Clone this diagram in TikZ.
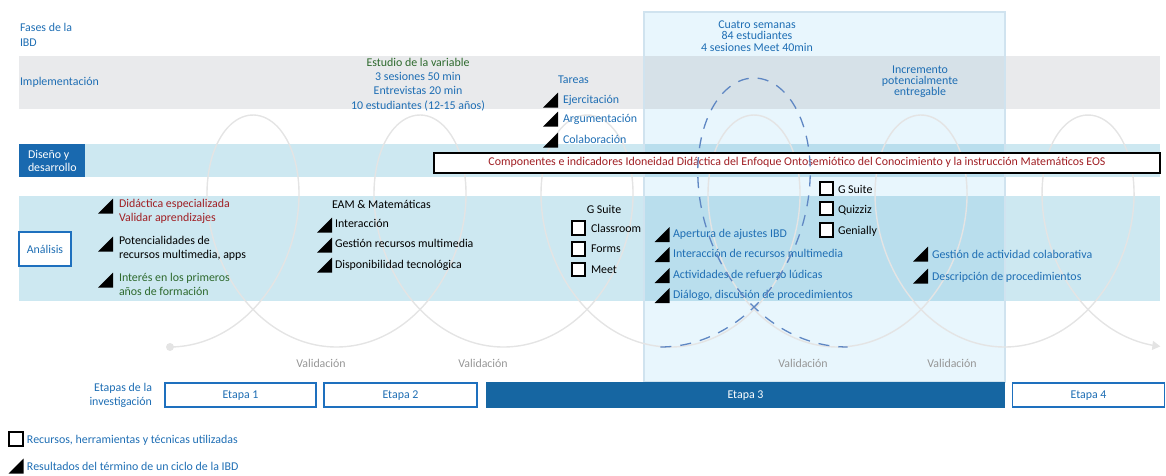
\documentclass[tikz,border=0pt]{standalone}
\usepackage{fontspec}
\setmainfont{Carlito}
\usetikzlibrary{arrows.meta}

\definecolor{txtblue}{RGB}{30,110,180}
\definecolor{txtred}{RGB}{160,30,35}
\definecolor{txtgreen}{RGB}{45,105,45}
\definecolor{valgrey}{RGB}{150,150,150}
\definecolor{bandgrey}{RGB}{233,234,236}
\definecolor{bandgreyhi}{RGB}{214,225,232}
\definecolor{bandblue}{RGB}{205,232,241}
\definecolor{bandbluehi}{RGB}{185,222,237}
\definecolor{hifill}{RGB}{232,246,253}
\definecolor{hiedge}{RGB}{208,227,239}
\definecolor{boxblue}{RGB}{25,105,175}
\definecolor{stageblue}{RGB}{22,102,162}
\definecolor{edgeblue}{RGB}{30,112,190}
\definecolor{loopgrey}{RGB}{228,228,228}
\definecolor{dashblue}{RGB}{95,135,195}

\tikzset{
  restri/.pic={\fill[black] (-7.5,7.5) -- (7.5,7.5) -- (7.5,-7.5) -- cycle;},
  lbl/.style={anchor=base west},
  ctr/.style={anchor=base},
  rgt/.style={anchor=base east},
  chk/.style={draw=black, line width=1.7pt, fill=white, minimum size=13.5pt, inner sep=0pt},
  stagebox/.style={draw=edgeblue, line width=1.4pt, fill=white, minimum height=24pt, text=txtblue,
                   text height=8pt, text depth=2pt},
  loopline/.style={draw=loopgrey, line width=1.4pt},
  dashloop/.style={draw=dashblue, line width=1.3pt, dash pattern=on 11pt off 9pt},
}

\begin{document}
\begin{tikzpicture}[x=1pt, y=-1pt,
  every node/.style={font=\fontsize{11.9}{14}\selectfont, inner sep=0pt, outer sep=0pt}]
\useasboundingbox (0,0) rectangle (1166,475);

% stage-3 highlight panel
\fill[hifill] (644,12) rectangle (1005,382);

% horizontal bands
\fill[bandgrey] (19,56) rectangle (1160,109);
\fill[bandgreyhi] (644,56) rectangle (1005,109);
\fill[bandblue] (19,144) rectangle (1160,177);
\fill[bandbluehi] (644,144) rectangle (1005,177);
\fill[bandblue] (19,196) rectangle (1160,301);
\fill[bandbluehi] (644,196) rectangle (1005,301);
\draw[hiedge, line width=1.2pt] (644,12) rectangle (1005,382);

% iterative cycles (looped path)
\fill[loopgrey] (170,347) circle (4);
\draw[loopline, -{Triangle[length=8pt, width=9pt]}]
  plot[domain=-3.1416:34.458, samples=700, smooth]
  ({253+26.58*\x-83.5*sin(\x r)}, {231-116*cos(\x r)});

% phase labels
\node[lbl, text=txtblue] (fases1) at (20,31) {Fases de la};
\node[lbl, text=txtblue] (fases2) at (20,46) {IBD};
\node[lbl, text=txtblue] (impl) at (20,85) {Implementación};

\node[fill=boxblue, minimum width=66pt, minimum height=33pt] (diseno) at (52,160.5) {};
\node[lbl, text=white] (diseno1) at (28,158) {Diseño y};
\node[lbl, text=white] (diseno2) at (28,171) {desarrollo};

\node[draw=edgeblue, line width=1.4pt, fill=white, minimum width=52pt, minimum height=34pt,
      text=txtblue] (analisis) at (45,249) {Análisis};

% implementation row
\node[ctr, text=txtgreen] (est1) at (418,66) {Estudio de la variable};
\node[ctr, text=txtblue] (est2) at (418,80) {3 sesiones 50 min};
\node[ctr, text=txtblue] (est3) at (418,94) {Entrevistas 20 min};
\node[ctr, text=txtblue] (est4) at (418,109) {10 estudiantes (12-15 años)};

\node[lbl, text=txtblue] (tareas) at (558,83) {Tareas};
\pic at (550.5,100) {restri};
\node[lbl, text=txtblue] (tar1) at (563,103) {Ejercitación};
\pic at (550.5,119) {restri};
\node[lbl, text=txtblue] (tar2) at (563,122) {Argumentación};
\pic at (550.5,140) {restri};
\node[lbl, text=txtblue] (tar3) at (563,143) {Colaboración};

\node[ctr, text=txtblue] (cua1) at (757,28) {Cuatro semanas};
\node[ctr, text=txtblue] (cua2) at (757,39.5) {84 estudiantes};
\node[ctr, text=txtblue] (cua3) at (757,51) {4 sesiones Meet 40min};

\node[ctr, text=txtblue] (inc1) at (920,73) {Incremento};
\node[ctr, text=txtblue] (inc2) at (920,84) {potencialmente};
\node[ctr, text=txtblue] (inc3) at (920,95) {entregable};

% design row
\node[draw=black, line width=1.4pt, fill=white, minimum width=726pt, minimum height=20pt,
      text=txtred, text height=8pt, text depth=2.5pt] (eos) at (797,163)
  {Componentes e indicadores Idoneidad Didáctica del Enfoque Ontosemiótico del Conocimiento y la instrucción Matemáticos EOS};

% analysis row, column 1
\pic at (105.5,206) {restri};
\node[lbl, text=txtred] (an1a) at (119,207) {Didáctica especializada};
\node[lbl, text=txtred] (an1b) at (119,221) {Validar aprendizajes};
\pic at (105.5,244) {restri};
\node[lbl, text=black] (an2a) at (119,244) {Potencialidades de};
\node[lbl, text=black] (an2b) at (119,258) {recursos multimedia, apps};
\pic at (105.5,280) {restri};
\node[lbl, text=txtgreen] (an3a) at (119,281) {Interés en los primeros};
\node[lbl, text=txtgreen] (an3b) at (119,295) {años de formación};

% analysis row, column 2
\node[lbl, text=black] (eam) at (332,208) {EAM \& Matemáticas};
\pic at (324.5,225) {restri};
\node[lbl, text=black] (eam1) at (335,227) {Interacción};
\pic at (324.5,245) {restri};
\node[lbl, text=black] (eam2) at (335,247) {Gestión recursos multimedia};
\pic at (324.5,265) {restri};
\node[lbl, text=black] (eam3) at (335,268) {Disponibilidad tecnológica};

% analysis row, column 3
\node[ctr, text=black] (gs1) at (604,213) {G Suite};
\node[chk] (gsb1) at (578.5,228) {};
\node[lbl, text=black] (gst1) at (591,232) {Classroom};
\node[chk] (gsb2) at (578.5,249) {};
\node[lbl, text=black] (gst2) at (591,252) {Forms};
\node[chk] (gsb3) at (578.5,269.5) {};
\node[lbl, text=black] (gst3) at (591,273) {Meet};

% analysis row, stage 3
\pic at (662,234.5) {restri};
\node[lbl, text=txtblue] (s3a) at (673,237) {Apertura de ajustes IBD};
\pic at (662,254.5) {restri};
\node[lbl, text=txtblue] (s3b) at (673,257) {Interacción de recursos multimedia};
\pic at (662,275.5) {restri};
\node[lbl, text=txtblue] (s3c) at (673,278) {Actividades de refuerzo lúdicas};
\pic at (662,295.5) {restri};
\node[lbl, text=txtblue] (s3d) at (673,298) {Diálogo, discusión de procedimientos};

\node[chk] (tb1) at (826.5,188.5) {};
\node[lbl, text=black] (tt1) at (838,193) {G Suite};
\node[chk] (tb2) at (826.5,208.5) {};
\node[lbl, text=black] (tt2) at (838,213) {Quizziz};
\node[chk] (tb3) at (826.5,230) {};
\node[lbl, text=black] (tt3) at (838,234) {Genially};

\pic at (920.5,254) {restri};
\node[lbl, text=txtblue] (r1) at (932,258) {Gestión de actividad colaborativa};
\pic at (920.5,276) {restri};
\node[lbl, text=txtblue] (r2) at (932,280) {Descripción de procedimientos};

% validation points
\node[ctr, text=valgrey] (val1) at (321,367) {Validación};
\node[ctr, text=valgrey] (val2) at (483,367) {Validación};
\node[ctr, text=valgrey] (val3) at (803,367) {Validación};
\node[ctr, text=valgrey] (val4) at (952,367) {Validación};

% research stages
\node[rgt, text=txtblue] (etl1) at (152,391) {Etapas de la};
\node[rgt, text=txtblue] (etl2) at (152,405) {investigación};
\node[stagebox, minimum width=151pt] (e1) at (240.5,395) {Etapa 1};
\node[stagebox, minimum width=153pt] (e2) at (400.5,395) {Etapa 2};
\node[stagebox, minimum width=517pt, fill=stageblue, draw=stageblue, text=white] (e3) at (745.5,395) {Etapa 3};
\node[stagebox, minimum width=152pt] (e4) at (1088.5,395) {Etapa 4};

% legend
\node[chk] (legbox) at (16,439) {};
\node[lbl, text=txtblue] (legt1) at (27,443) {Recursos, herramientas y técnicas utilizadas};
\pic at (16,466) {restri};
\node[lbl, text=txtblue] (legt2) at (27,470) {Resultados del término de un ciclo de la IBD};

% current cycle (dashed loop)
\draw[dashloop] plot[domain=-3.1416:3.1416, samples=200, smooth]
  ({754+29.8*\x-98.5*sin(\x r)}, {212.5-134.5*cos(\x r)});

\end{tikzpicture}
\end{document}
